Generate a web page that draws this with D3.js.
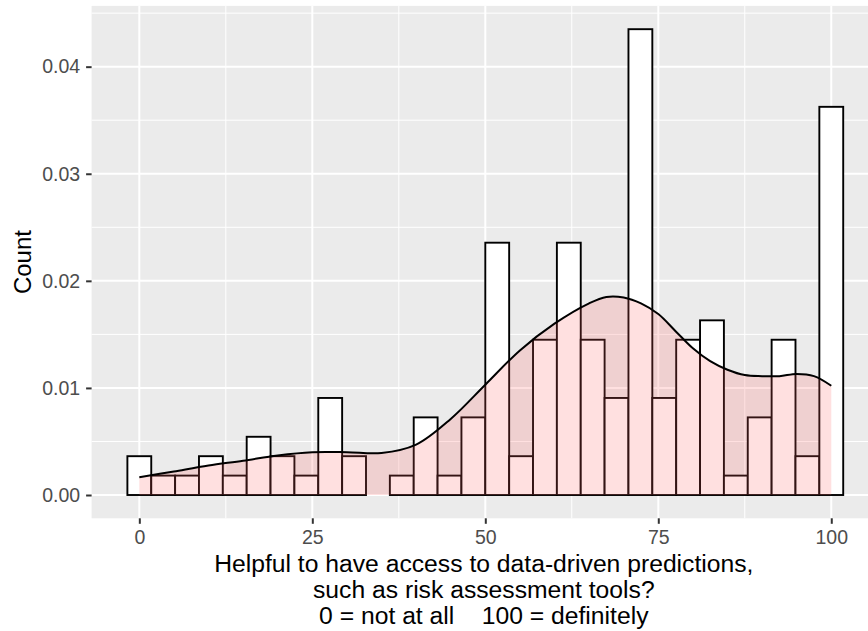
<!DOCTYPE html>
<html>
<head>
<meta charset="utf-8">
<script src="https://cdn.jsdelivr.net/npm/d3@7"></script>
<style>
  html, body { margin: 0; padding: 0; background: #ffffff; }
  svg { display: block; }
  text { font-family: "Liberation Sans", Arial, Helvetica, sans-serif; }
</style>
</head>
<body>
<svg id="chart" width="868" height="631"></svg>
<script>
// ---- data ----
const binWidth = 100 / 29;           // 30 bins centred on 0 ... 100
const binCounts = [2, 1, 1, 2, 1, 3, 2, 1, 5, 2, 0, 1, 4, 1, 4,
                   13, 2, 8, 13, 8, 5, 24, 5, 8, 9, 1, 4, 8, 2, 20];
const densityX = [0, 5, 10, 15, 20, 25, 30, 35, 40, 45, 50, 55, 60, 65, 67.5, 70, 72.5, 75, 77.5, 80, 82.5, 85, 87.5, 90, 92.5, 95, 97.5, 100];
const densityY = [0.00165, 0.0022, 0.00275, 0.0032, 0.0037, 0.0040, 0.0040, 0.00392, 0.0047, 0.0071, 0.0103, 0.0135, 0.0160, 0.0179, 0.01850, 0.01845, 0.0179, 0.0169, 0.0153, 0.0137, 0.0125, 0.0117, 0.0112, 0.0111, 0.0111, 0.0113, 0.0111, 0.0102];
const xTicks = [0, 25, 50, 75, 100];
const xMinor = [12.5, 37.5, 62.5, 87.5];
const yTicks = [0, 0.01, 0.02, 0.03, 0.04];
const yMinor = [0.005, 0.015, 0.025, 0.035, 0.045];
const yTitle = "Count";
const xTitleLines = ["Helpful to have access to data-driven predictions,",
                     "such as risk assessment tools?",
                     "0 = not at all    100 = definitely"];

// ---- derived histogram (density scale) ----
const nObs = d3.sum(binCounts);
const bins = binCounts.map((c, i) => ({
  x0: i * binWidth - binWidth / 2,
  x1: i * binWidth + binWidth / 2,
  density: c / (nObs * binWidth)
}));
const dens = densityX.map((x, i) => ({ x, y: densityY[i] }));

// ---- layout ----
const svg = d3.select("#chart");
const panel = { left: 91.6, right: 879, top: 5.9, bottom: 518.3 };

const xMin = bins[0].x0, xMax = bins[bins.length - 1].x1;
const xPad = (xMax - xMin) * 0.05;
const x = d3.scaleLinear().domain([xMin - xPad, xMax + xPad]).range([panel.left, panel.right]);
const yMax = d3.max(bins, d => d.density);
const y = d3.scaleLinear().domain([-yMax * 0.05, yMax * 1.05]).range([panel.bottom, panel.top]);

// panel background
svg.append("rect")
  .attr("x", panel.left).attr("y", panel.top)
  .attr("width", panel.right - panel.left).attr("height", panel.bottom - panel.top)
  .attr("fill", "#EBEBEB");

const grid = svg.append("g");
grid.selectAll(".ymin").data(yMinor).join("line")
  .attr("x1", panel.left).attr("x2", panel.right)
  .attr("y1", d => y(d)).attr("y2", d => y(d))
  .attr("stroke", "#ffffff").attr("stroke-width", 1);
grid.selectAll(".xmin").data(xMinor).join("line")
  .attr("y1", panel.top).attr("y2", panel.bottom)
  .attr("x1", d => x(d)).attr("x2", d => x(d))
  .attr("stroke", "#ffffff").attr("stroke-width", 1);
grid.selectAll(".ymaj").data(yTicks).join("line")
  .attr("x1", panel.left).attr("x2", panel.right)
  .attr("y1", d => y(d)).attr("y2", d => y(d))
  .attr("stroke", "#ffffff").attr("stroke-width", 2);
grid.selectAll(".xmaj").data(xTicks).join("line")
  .attr("y1", panel.top).attr("y2", panel.bottom)
  .attr("x1", d => x(d)).attr("x2", d => x(d))
  .attr("stroke", "#ffffff").attr("stroke-width", 2);

// histogram bars
svg.append("g").selectAll("rect").data(bins.filter(b => b.density > 0)).join("rect")
  .attr("x", d => x(d.x0))
  .attr("width", d => x(d.x1) - x(d.x0))
  .attr("y", d => y(d.density))
  .attr("height", d => y(0) - y(d.density))
  .attr("fill", "#ffffff")
  .attr("stroke", "#000000")
  .attr("stroke-width", 1.9);

// density area + line
const area = d3.area().x(d => x(d.x)).y0(y(0)).y1(d => y(d.y)).curve(d3.curveCatmullRom.alpha(0.5));
const line = d3.line().x(d => x(d.x)).y(d => y(d.y)).curve(d3.curveCatmullRom.alpha(0.5));
svg.append("path").datum(dens).attr("d", area)
  .attr("fill", "#FF6666").attr("fill-opacity", 0.2).attr("stroke", "none");
svg.append("path").datum(dens).attr("d", line)
  .attr("fill", "none").attr("stroke", "#000000").attr("stroke-width", 2);

// axes
const xAxis = d3.axisBottom(x).tickValues(xTicks).tickSize(5.5).tickPadding(6).tickFormat(d3.format("d"));
const gx = svg.append("g").attr("transform", `translate(0,${panel.bottom})`).call(xAxis);
gx.select(".domain").remove();
gx.selectAll(".tick line").attr("stroke", "#333333").attr("stroke-width", 2);
gx.selectAll(".tick text").attr("fill", "#4D4D4D").attr("font-size", 19.5)
  .attr("font-family", "Liberation Sans, Arial, sans-serif").attr("dy", "0.71em").attr("y", 11.5);

const yAxis = d3.axisLeft(y).tickValues(yTicks).tickSize(5.5).tickPadding(5).tickFormat(d3.format(".2f"));
const gy = svg.append("g").attr("transform", `translate(${panel.left},0)`).call(yAxis);
gy.select(".domain").remove();
gy.selectAll(".tick line").attr("stroke", "#333333").attr("stroke-width", 2);
gy.selectAll(".tick text").attr("fill", "#4D4D4D").attr("font-size", 19.5)
  .attr("font-family", "Liberation Sans, Arial, sans-serif").attr("x", -11.5);

// titles
svg.append("text")
  .attr("transform", `translate(31,${(panel.top + panel.bottom) / 2}) rotate(-90)`)
  .attr("text-anchor", "middle").attr("font-size", 24).attr("fill", "#000000")
  .text(yTitle);

const xc = (panel.left + panel.right) / 2 - 1.5;
svg.append("g").selectAll("text").data(xTitleLines).join("text")
  .attr("x", xc).attr("y", (d, i) => 572 + i * 26)
  .attr("text-anchor", "middle").attr("font-size", 24.7).attr("fill", "#000000")
  .style("white-space", "pre").attr("xml:space", "preserve")
  .text(d => d);
</script>
</body>
</html>
